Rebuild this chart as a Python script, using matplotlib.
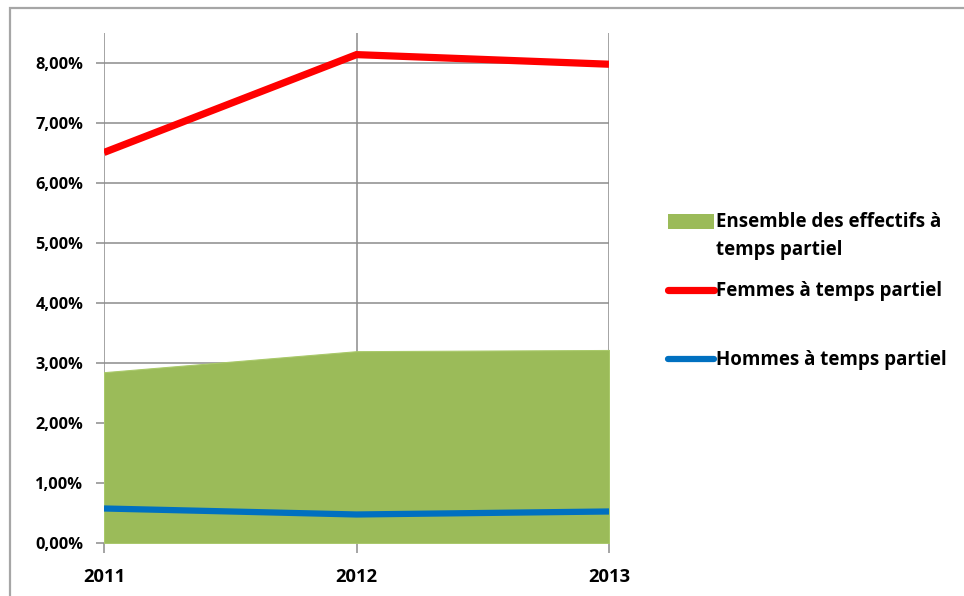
import matplotlib
matplotlib.use("Agg")
import matplotlib.pyplot as plt
from matplotlib.patches import Rectangle
from matplotlib.lines import Line2D
from matplotlib.ticker import FuncFormatter

years = [2011, 2012, 2013]
ensemble = [2.85, 3.20, 3.22]
femmes = [6.51, 8.14, 7.98]
hommes = [0.58, 0.48, 0.53]
yticks = [0, 1, 2, 3, 4, 5, 6, 7, 8]
labels = ["Ensemble des effectifs à\ntemps partiel", "Femmes à temps partiel", "Hommes à temps partiel"]

GREEN = "#9BBB59"
RED = "#FF0000"
BLUE = "#0070C0"
GRID = "#8C8C8C"
FONT = ["Open Sans", "DejaVu Sans"]

W, H = 964, 596
fig = plt.figure(figsize=(W / 100, H / 100), dpi=100)
fig.patch.set_facecolor("white")

# outer chart frame
fig.add_artist(Rectangle((10 / W, -0.1), 1.2, 1 - 8 / H + 0.1, transform=fig.transFigure,
                         fill=False, edgecolor="#A6A6A6", linewidth=1.6))

ax = fig.add_axes([104 / W, 1 - 543.3 / H, (609 - 104) / W, (543.3 - 33) / H])
ax.fill_between(years, 0, ensemble, color=GREEN, edgecolor="#A9C96A", linewidth=0.8, zorder=2)
ax.plot(years, femmes, color=RED, linewidth=5.2, solid_capstyle="butt", solid_joinstyle="miter", zorder=3)
ax.plot(years, hommes, color=BLUE, linewidth=4.5, solid_capstyle="butt", solid_joinstyle="miter", zorder=3)

ax.set_xlim(2011, 2013)
ax.set_ylim(0, 8.5)
ax.set_xticks(years)
ax.set_yticks(yticks)
ax.yaxis.set_major_formatter(FuncFormatter(lambda v, p: f"{v:.2f}%".replace(".", ",")))
ax.grid(True, color=GRID, linewidth=1.1, zorder=1)
ax.set_axisbelow(True)
for s in ax.spines.values():
    s.set_visible(False)
ax.tick_params(axis="y", length=6, width=1.1, color=GRID, pad=9)
ax.tick_params(axis="x", length=7, width=1.1, color=GRID, pad=10.5)
for lab in ax.get_yticklabels():
    lab.set_family(FONT)
    lab.set_fontweight("bold")
    lab.set_fontsize(11.8)
    lab.set_color("black")
for lab in ax.get_xticklabels():
    lab.set_family(FONT)
    lab.set_fontweight("bold")
    lab.set_fontsize(13.2)
    lab.set_color("black")

# legend (manual, to match irregular spacing)
def fx(x):
    return x / W

def fy(y):
    return 1 - y / H

fig.add_artist(Rectangle((fx(668), fy(229)), fx(714) - fx(668), fy(214) - fy(229),
                         transform=fig.transFigure, color=GREEN, linewidth=0))
fig.add_artist(Line2D([fx(668), fx(714)], [fy(290), fy(290)], transform=fig.transFigure,
                      color=RED, linewidth=5.2, solid_capstyle="round"))
fig.add_artist(Line2D([fx(668), fx(714)], [fy(359), fy(359)], transform=fig.transFigure,
                      color=BLUE, linewidth=4.5, solid_capstyle="round"))
tkw = dict(family=FONT, fontweight="bold", fontsize=13.5, color="black", ha="left")
fig.text(fx(716), fy(222), labels[0].split("\n")[0], va="center", **tkw)
fig.text(fx(716), fy(250), labels[0].split("\n")[1], va="center", **tkw)
fig.text(fx(716), fy(291), labels[1], va="center", **tkw)
fig.text(fx(716), fy(360), labels[2], va="center", **tkw)

fig.savefig("out.png", dpi=100, facecolor="white")
